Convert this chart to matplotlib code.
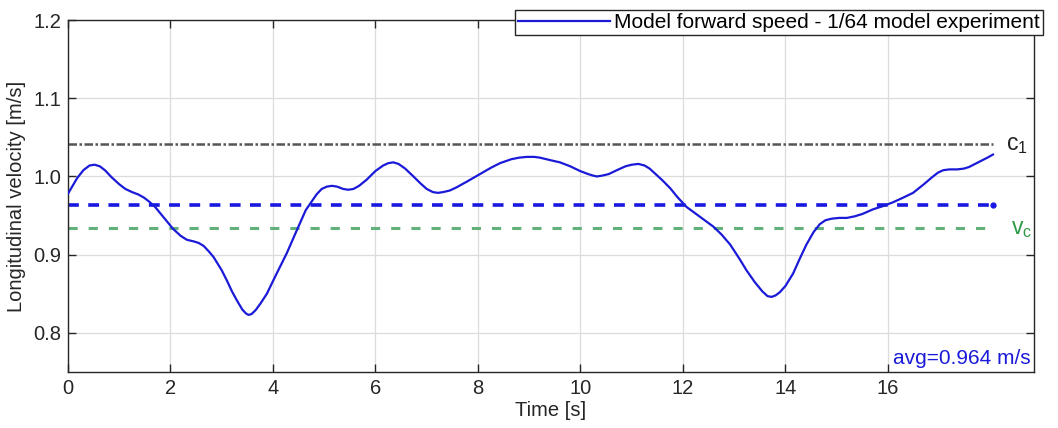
import matplotlib
matplotlib.use("Agg")
import matplotlib.pyplot as plt

plt.rcParams['font.family'] = ['Liberation Sans', 'DejaVu Sans']
plt.rcParams['mathtext.fontset'] = 'custom'
plt.rcParams['mathtext.rm'] = 'Liberation Sans'
plt.rcParams['mathtext.it'] = 'Liberation Sans'

time_s = [0.00, 0.08, 0.18, 0.30, 0.42, 0.52, 0.62, 0.72, 0.85, 1.00, 1.12, 1.25, 1.37,
          1.48, 1.58, 1.70, 1.85, 2.05, 2.20, 2.32, 2.45, 2.55, 2.65, 2.75, 2.84, 3.00,
          3.10, 3.20, 3.30, 3.40, 3.47, 3.52, 3.58, 3.66, 3.75, 3.88, 4.05, 4.27, 4.45,
          4.64, 4.85, 4.95, 5.05, 5.15, 5.25, 5.37, 5.47, 5.57, 5.68, 5.83, 6.00, 6.15,
          6.25, 6.35, 6.45, 6.58, 6.74, 6.88, 7.00, 7.12, 7.22, 7.32, 7.45, 7.58, 7.80,
          8.04, 8.25, 8.43, 8.65, 8.80, 8.95, 9.10, 9.21, 9.40, 9.60, 9.80, 9.99, 10.15,
          10.25, 10.32, 10.42, 10.55, 10.71, 10.88, 11.00, 11.13, 11.25, 11.35, 11.45,
          11.60, 11.75, 11.90, 12.07, 12.30, 12.59, 12.75, 12.92, 13.10, 13.24, 13.40,
          13.55, 13.65, 13.73, 13.81, 13.89, 14.00, 14.15, 14.28, 14.41, 14.55, 14.67,
          14.78, 14.90, 15.05, 15.20, 15.35, 15.50, 15.71, 15.90, 16.10, 16.30, 16.49,
          16.70, 16.88, 16.98, 17.08, 17.20, 17.35, 17.48, 17.58, 17.70, 17.82, 17.94, 18.05]
speed = [0.978, 0.987, 0.998, 1.008, 1.014, 1.015, 1.013, 1.008, 0.999, 0.990, 0.984, 0.980, 0.977,
         0.973, 0.968, 0.961, 0.949, 0.933, 0.924, 0.919, 0.917, 0.915, 0.911, 0.904, 0.897, 0.880,
         0.867, 0.853, 0.841, 0.830, 0.825, 0.823, 0.824, 0.829, 0.837, 0.850, 0.873, 0.902, 0.929,
         0.957, 0.977, 0.984, 0.987, 0.988, 0.987, 0.984, 0.983, 0.984, 0.988, 0.996, 1.007, 1.014,
         1.017, 1.018, 1.016, 1.010, 1.000, 0.991, 0.984, 0.980, 0.979, 0.980, 0.982, 0.986, 0.994,
         1.003, 1.011, 1.017, 1.022, 1.024, 1.025, 1.025, 1.024, 1.021, 1.018, 1.013, 1.007, 1.003,
         1.001, 1.000, 1.001, 1.003, 1.008, 1.013, 1.015, 1.016, 1.014, 1.010, 1.004,
         0.995, 0.985, 0.973, 0.961, 0.950, 0.936, 0.926, 0.913, 0.895, 0.880, 0.865,
         0.853, 0.847, 0.846, 0.848, 0.852, 0.860, 0.876, 0.895, 0.913, 0.929, 0.939,
         0.944, 0.946, 0.947, 0.947, 0.949, 0.952, 0.958, 0.962, 0.967, 0.973, 0.979,
         0.990, 1.000, 1.005, 1.008, 1.009, 1.009, 1.010, 1.012, 1.016, 1.020, 1.024, 1.028]

c1_value = 1.041
avg_value = 0.964
vc_value = 0.934
ref_span = [0.0, 18.05]

x_ticks = [0, 2, 4, 6, 8, 10, 12, 14, 16]
y_ticks = [0.8, 0.9, 1.0, 1.1, 1.2]
y_ticklabels = ['0.8', '0.9', '1.0', '1.1', '1.2']

fig = plt.figure(figsize=(10.58, 4.28), dpi=100)
ax = fig.add_axes([68/1058, 1 - 372/428, (1034 - 68)/1058, (372 - 20)/428])

ax.grid(True, color='#dcdcdc', linewidth=0.9, zorder=0)
ax.set_axisbelow(True)

ax.plot(ref_span, [c1_value]*2, color='#555555', lw=1.8, dashes=(3.4, 1.0, 1.0, 1.0), zorder=2)
ax.plot(ref_span, [vc_value]*2, color='#62b07a', lw=2.2, dashes=(3.0, 3.6), zorder=2)
ax.plot(ref_span, [avg_value]*2, color='#1818e0', lw=2.6, dashes=(3.0, 2.6), zorder=2,
        marker='o', ms=3.5, markevery=[1])
line, = ax.plot(time_s, speed, color='#1a1ad8', lw=1.6, zorder=3,
                label='Model forward speed - 1/64 model experiment')

ax.set_xlim(0, 18.85)
ax.set_ylim(0.75, 1.2)
ax.set_xticks(x_ticks)
ax.set_yticks(y_ticks)
ax.set_yticklabels(y_ticklabels)
ax.tick_params(direction='in', length=6, width=1, top=True, right=True,
               labelsize=14.5, colors='#262626', pad=5)
for s in ax.spines.values():
    s.set_linewidth(1.0)
    s.set_color('#262626')

ax.set_xlabel('Time [s]', fontsize=14.5, color='#262626', labelpad=2)
ax.set_ylabel('Longitudinal velocity [m/s]', fontsize=14.5, color='#262626', labelpad=5)

ax.text(18.3, c1_value, r'$\mathregular{c_1}$', fontsize=16.5, color='#222222',
        va='center', ha='left')
ax.text(18.4, vc_value, r'$\mathregular{v_c}$', fontsize=16.5, color='#2e9a48',
        va='center', ha='left')
ax.text(0.997, 0.012, 'avg=0.964 m/s', transform=ax.transAxes, fontsize=15,
        color='#1a1ad8', ha='right', va='bottom')

leg = fig.legend(handles=[line], loc='upper right',
                 bbox_to_anchor=(1043/1058, 1 - 10/428), bbox_transform=fig.transFigure,
                 fontsize=15, fancybox=False, framealpha=1, edgecolor='#262626',
                 borderaxespad=0, handlelength=4.4, handletextpad=0.2,
                 borderpad=0.15)
leg.get_frame().set_linewidth(1.0)

fig.savefig('out.png', dpi=100)
